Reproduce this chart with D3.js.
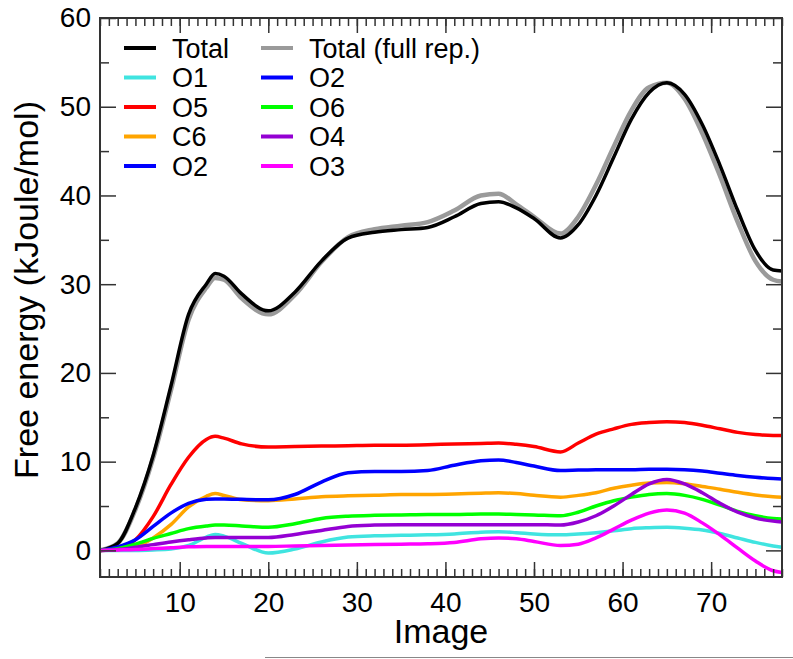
<!DOCTYPE html>
<html>
<head>
<meta charset="utf-8">
<script src="https://cdn.jsdelivr.net/npm/d3@7"></script>
<style>
  body { margin: 0; background: #fff; }
  svg { display: block; font-family: "Liberation Sans", Arial, Helvetica, sans-serif; }
</style>
</head>
<body>
<div id="chart"></div>
<script>
// image index of every sampled point
var images = [1,3,5,7,9,11,13,14,15,17,20,23,26,29,32,35,38,41,44,46,48,50,53,55,57,59,61,63,65,67,69,71,73,75,77,78];

var total     = [0,0.8,4.8,10.7,18.5,26.6,30.0,31.2,30.9,28.9,27.0,29.1,32.6,35.2,35.85,36.15,36.4,37.6,39.1,39.3,38.6,37.4,35.2,36.7,40.0,44.3,48.6,51.6,52.7,51.4,48.0,43.4,38.3,33.8,31.6,31.5];
var totalFull = [0,0.8,4.6,10.4,18.0,26.0,29.6,30.7,30.5,28.4,26.6,28.8,32.5,35.3,36.2,36.6,37.0,38.3,40.0,40.2,39.0,37.6,35.7,37.6,41.2,45.5,49.6,52.2,52.7,50.9,47.0,42.2,37.0,32.6,30.5,30.3];
var o1 = [0,0,0,0.05,0.15,0.55,1.5,1.8,1.6,0.8,-0.3,0.15,0.95,1.5,1.65,1.7,1.75,1.85,2.05,2.1,2.0,1.85,1.75,1.85,2.0,2.2,2.45,2.55,2.6,2.5,2.3,1.9,1.4,0.9,0.5,0.35];
var o5 = [0,0.2,1.2,3.8,7.4,10.5,12.5,12.85,12.65,12.0,11.65,11.7,11.75,11.8,11.85,11.85,11.9,12.0,12.05,12.1,11.95,11.7,11.1,12.1,13.1,13.7,14.2,14.4,14.5,14.4,14.1,13.7,13.3,13.05,12.95,12.95];
var c6 = [0,0.1,0.4,1.4,2.9,4.9,6.1,6.4,6.2,5.7,5.6,5.8,6.05,6.15,6.2,6.3,6.3,6.35,6.45,6.5,6.4,6.2,6.0,6.2,6.5,7.0,7.35,7.6,7.65,7.5,7.2,6.9,6.55,6.25,6.05,6.0];
var o2 = [0,0.4,1.2,2.7,4.2,5.3,5.75,5.8,5.8,5.75,5.7,6.3,7.7,8.75,8.9,8.9,9.0,9.6,10.1,10.2,9.9,9.5,9.0,9.05,9.1,9.1,9.1,9.15,9.15,9.1,8.95,8.7,8.45,8.25,8.1,8.05];
var o6 = [0,0.2,0.7,1.35,1.9,2.45,2.75,2.85,2.85,2.75,2.6,3.0,3.6,3.85,3.95,4.0,4.05,4.05,4.1,4.1,4.05,4.0,3.9,4.3,5.0,5.6,6.0,6.3,6.4,6.2,5.75,5.1,4.4,3.9,3.6,3.55];
var o4 = [0,0.1,0.35,0.65,0.95,1.2,1.4,1.45,1.45,1.45,1.45,1.8,2.25,2.7,2.85,2.9,2.9,2.9,2.9,2.9,2.9,2.9,2.85,3.2,3.9,5.0,6.3,7.5,8.0,7.5,6.5,5.3,4.3,3.65,3.3,3.2];
var o3 = [0,0.05,0.1,0.2,0.3,0.4,0.45,0.45,0.45,0.45,0.45,0.5,0.55,0.6,0.65,0.7,0.75,0.9,1.3,1.4,1.3,1.0,0.55,0.7,1.4,2.4,3.4,4.2,4.55,4.2,3.1,1.75,0.25,-1.2,-2.3,-2.5];

// legend, column by column
var legendCol1 = ["Total", "O1", "O5", "C6", "O2"];
var legendCol2 = ["Total (full rep.)", "O2", "O6", "O4", "O3"];

var xTicks = [10,20,30,40,50,60,70];
var yTicks = [0,10,20,30,40,50,60];

// series table: drawn in this order (gray under black, magenta on top)
var series = [
    {name: "Total (full rep.)", values: totalFull},
    {name: "Total", values: total},
    {name: "O1", values: o1},
    {name: "O5", values: o5},
    {name: "C6", values: c6},
    {name: "O2", values: o2},
    {name: "O6", values: o6},
    {name: "O4", values: o4},
    {name: "O3", values: o3}
];

var colors = {
    "Total": "#000000",
    "Total (full rep.)": "#9a9a9a",
    "O1": "#40e4e0",
    "O5": "#ff0000",
    "C6": "#ffa500",
    "O2": "#0000ff",
    "O6": "#00ff00",
    "O4": "#9400d3",
    "O3": "#ff00ff"
};

// 0. size
var W = 793, H = 659;
var margin = {top: 18, right: 11, bottom: 82, left: 100};
var w = W - margin.left - margin.right;
var h = H - margin.top - margin.bottom;

var svgBG = d3.select("#chart").append("svg").attr("width", W).attr("height", H);
var svg = svgBG.append("g").attr("transform", "translate(" + margin.left + "," + margin.top + ")");

var x = d3.scaleLinear().domain([1, 78]).range([0, w]);
var y = d3.scaleLinear().domain([-3, 60]).range([h, 0]);

svg.append("clipPath").attr("id", "clip")
    .append("rect").attr("width", w).attr("height", h);

// 1. lines
var line = d3.line()
    .x(function(d, i) { return x(images[i]); })
    .y(function(d) { return y(d); })
    .curve(d3.curveMonotoneX);

svg.append("g").attr("clip-path", "url(#clip)")
    .selectAll(".series").data(series).enter()
    .append("path")
    .attr("class", "series")
    .attr("d", function(d) { return line(d.values); })
    .attr("fill", "none")
    .attr("stroke", function(d) { return colors[d.name]; })
    .attr("stroke-width", function(d) { return d.name == "Total (full rep.)" ? 4.5 : 3.5; })
    .attr("stroke-linejoin", "round");

// 2. axes with inward ticks on all four sides
var axisColor = "#333";
var minorX = d3.range(1, 79);
var minorY = d3.range(5, 60, 10);

function styleAxis(g) {
    g.select(".domain").remove();
    g.selectAll("line").attr("stroke", axisColor).attr("stroke-width", 1.5);
}

svg.append("g").attr("transform", "translate(0," + h + ")")
    .call(d3.axisBottom(x).tickValues(minorX).tickSize(-8).tickFormat(""))
    .call(styleAxis);
svg.append("g").attr("transform", "translate(0," + h + ")")
    .call(d3.axisBottom(x).tickValues(xTicks).tickSize(-15).tickPadding(15))
    .call(styleAxis)
    .selectAll("text").attr("font-size", 28).attr("fill", "#000")
    .attr("font-family", "Liberation Sans, Arial, sans-serif");
svg.append("g")
    .call(d3.axisTop(x).tickValues(minorX).tickSize(-8).tickFormat(""))
    .call(styleAxis);
svg.append("g")
    .call(d3.axisTop(x).tickValues(xTicks).tickSize(-15).tickFormat(""))
    .call(styleAxis);

svg.append("g")
    .call(d3.axisLeft(y).tickValues(minorY).tickSize(-9).tickFormat(""))
    .call(styleAxis);
svg.append("g")
    .call(d3.axisLeft(y).tickValues(yTicks).tickSize(-16).tickPadding(9))
    .call(styleAxis)
    .selectAll("text").attr("font-size", 28).attr("fill", "#000")
    .attr("font-family", "Liberation Sans, Arial, sans-serif");
svg.append("g").attr("transform", "translate(" + w + ",0)")
    .call(d3.axisRight(y).tickValues(minorY).tickSize(-9).tickFormat(""))
    .call(styleAxis);
svg.append("g").attr("transform", "translate(" + w + ",0)")
    .call(d3.axisRight(y).tickValues(yTicks).tickSize(-16).tickFormat(""))
    .call(styleAxis);

svg.append("rect")
    .attr("width", w).attr("height", h)
    .attr("fill", "none").attr("stroke", axisColor).attr("stroke-width", 2);

// 3. axis titles
svg.append("text")
    .attr("x", w / 2).attr("y", h + 66)
    .attr("text-anchor", "middle")
    .style("font-size", "34px")
    .text("Image");

svg.append("text")
    .attr("transform", "translate(" + (38 - margin.left) + "," + (290 - margin.top) + ") rotate(-90)")
    .attr("text-anchor", "middle")
    .style("font-size", "34px")
    .text("Free energy (kJoule/mol)");

// 4. legend
var legend = svgBG.append("g");
[legendCol1, legendCol2].forEach(function(col, c) {
    var x0 = c == 0 ? 124 : 261;
    var rows = legend.selectAll(".leg" + c).data(col).enter()
        .append("g").attr("class", "leg" + c)
        .attr("transform", function(d, i) { return "translate(" + x0 + "," + (48 + i * 29.5) + ")"; });
    rows.append("line")
        .attr("x1", 0).attr("x2", 32)
        .attr("stroke", function(d) { return colors[d]; })
        .attr("stroke-width", 4);
    rows.append("text")
        .attr("x", 48).attr("dy", "0.36em")
        .style("font-size", "27px")
        .text(function(d) { return d; });
});

// stray rule at the bottom of the page
svgBG.append("line")
    .attr("x1", 265).attr("x2", W)
    .attr("y1", 657.5).attr("y2", 657.5)
    .attr("stroke", "#888").attr("stroke-width", 1.2);
</script>
</body>
</html>
